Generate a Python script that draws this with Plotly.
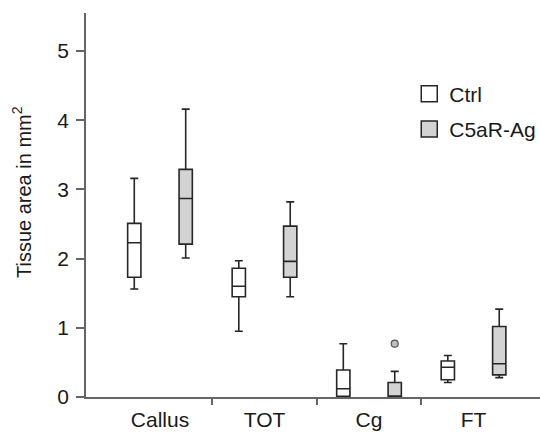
import plotly.graph_objects as go

categories = ["Callus", "TOT", "Cg", "FT"]
groups = ["Ctrl", "C5aR-Ag"]

# Box statistics per category (Callus, TOT, Cg, FT)
ctrl_lower = [1.56, 0.95, 0.00, 0.21]
ctrl_q1 = [1.73, 1.45, 0.01, 0.25]
ctrl_median = [2.23, 1.60, 0.12, 0.43]
ctrl_q3 = [2.51, 1.86, 0.39, 0.52]
ctrl_upper = [3.16, 1.97, 0.77, 0.60]

ag_lower = [2.01, 1.45, 0.00, 0.28]
ag_q1 = [2.21, 1.73, 0.00, 0.32]
ag_median = [2.87, 1.96, 0.01, 0.48]
ag_q3 = [3.29, 2.47, 0.21, 1.02]
ag_upper = [4.16, 2.82, 0.37, 1.27]

# Outliers
ag_outlier_cat = ["Cg"]
ag_outlier_val = [0.77]

OFFSET = 0.246
BOX_W = 0.127
LINE = "#262626"
AXIS = "#666666"
FILL_AG = "#d3d3d3"
FONT = "Liberation Sans, Arial, Helvetica, sans-serif"

idx = {c: i for i, c in enumerate(categories)}
ctrl_x = [i - OFFSET for i in range(len(categories))]
ag_x = [i + OFFSET for i in range(len(categories))]

fig = go.Figure()
fig.add_trace(go.Box(
    x=ctrl_x, q1=ctrl_q1, median=ctrl_median, q3=ctrl_q3,
    lowerfence=ctrl_lower, upperfence=ctrl_upper,
    width=BOX_W, whiskerwidth=0.6, boxpoints=False,
    fillcolor="white", line=dict(color=LINE, width=1.6),
    showlegend=False, name=groups[0]))
fig.add_trace(go.Box(
    x=ag_x, q1=ag_q1, median=ag_median, q3=ag_q3,
    lowerfence=ag_lower, upperfence=ag_upper,
    width=BOX_W, whiskerwidth=0.6, boxpoints=False,
    fillcolor=FILL_AG, line=dict(color=LINE, width=1.6),
    showlegend=False, name=groups[1]))
fig.add_trace(go.Scatter(
    x=[idx[c] + OFFSET for c in ag_outlier_cat], y=ag_outlier_val,
    mode="markers", showlegend=False,
    marker=dict(symbol="circle", size=7, color="#bdbdbd",
                line=dict(color="#555555", width=1.2))))

# Legend entries
for name, fill, grp in [(groups[0], "white", "a"), (groups[1], FILL_AG, "b")]:
    fig.add_trace(go.Scatter(
        x=[None], y=[None], mode="markers", name=name, legendgroup=grp,
        marker=dict(symbol="square", size=16, color=fill,
                    line=dict(color=LINE, width=1.5))))

fig.update_layout(
    width=540, height=434,
    margin=dict(l=86, r=0, t=13, b=37, autoexpand=False),
    plot_bgcolor="white", paper_bgcolor="white",
    font=dict(family=FONT, size=21, color="#1a1a1a"),
    showlegend=True,
    legend=dict(x=0.712, y=0.842, xanchor="left", yanchor="top",
                bgcolor="rgba(0,0,0,0)", tracegroupgap=5,
                font=dict(size=21)),
    xaxis=dict(
        range=[-0.708, 3.636], showgrid=False, zeroline=False,
        showline=True, linecolor=AXIS, linewidth=1.5,
        tickmode="array", tickvals=list(range(len(categories))),
        ticktext=categories, ticks="outside", ticklen=3,
        tickcolor="rgba(0,0,0,0)",
        minor=dict(tickmode="array", tickvals=[0.5, 1.5, 2.5],
                   ticks="outside", ticklen=6, tickcolor=AXIS, tickwidth=1.5),
    ),
    yaxis=dict(
        range=[0, 5.55], showgrid=False, zeroline=False,
        showline=True, linecolor=AXIS, linewidth=1.5,
        tickmode="array", tickvals=[0, 1, 2, 3, 4, 5],
        ticks="outside", ticklen=8, tickcolor=AXIS, tickwidth=1.5,
        ticklabelstandoff=3,
    ),
    annotations=[dict(
        text="Tissue area in mm<sup>2</sup>", textangle=-90,
        xref="paper", yref="paper", x=-0.1416, y=0.533,
        xanchor="center", yanchor="middle", showarrow=False,
        font=dict(size=20))],
)

fig.write_html("out.html")
